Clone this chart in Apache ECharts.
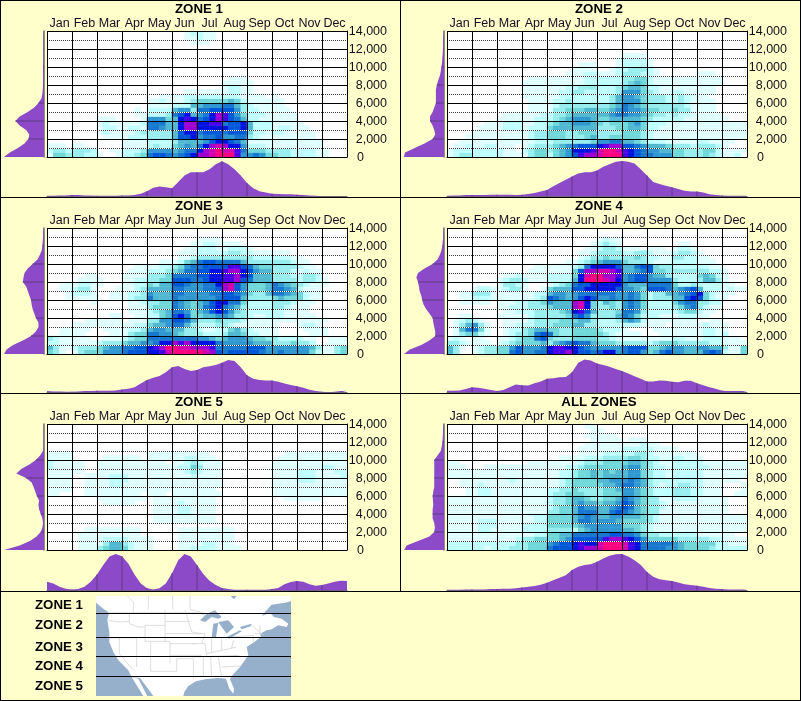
<!DOCTYPE html>
<html><head><meta charset="utf-8">
<style>html,body{margin:0;padding:0;background:#ffffcc}#c{width:801px;height:701px}</style>
<script src="https://cdn.jsdelivr.net/npm/echarts@6/dist/echarts.min.js"></script>
</head><body><div id="c"></div>
<script>
const months = ['Jan','Feb','Mar','Apr','May','Jun','Jul','Aug','Sep','Oct','Nov','Dec'];
const zoneNames = ['ZONE 1','ZONE 2','ZONE 3','ZONE 4','ZONE 5','ALL ZONES'];
const mapLabels = ['ZONE 1','ZONE 2','ZONE 3','ZONE 4','ZONE 5'];
const E = '0000 0000 0000 0000 0000 0000 0000 0000 0000 0000 0000 0000';
// heat levels per 500 ft band (top row = 14,000 ft), four columns per month
const zone1Rows = [
'0000 0000 0000 0000 0000 0012 2110 0000 0000 0000 0000 0000',
'0000 0000 0000 0000 0000 0011 2110 0000 0000 0000 0000 0000',
'0000 0000 0000 0000 0000 0001 1100 0000 0000 0000 0000 0000',
E,E,E,E,E,E,E,
'0000 0000 0000 0000 0000 0000 0000 0111 0000 0000 0000 0000',
'0000 0000 0000 0000 0000 0000 0000 1111 1000 0000 0000 0000',
'0000 0000 0000 0000 0000 0000 0000 1221 1000 0000 0000 0000',
'0000 0000 0000 0000 0000 0011 1111 1221 1000 0000 0000 0000',
'0000 0000 0000 0000 0011 1122 2222 2221 1110 1000 0000 0000',
'0000 0000 0000 0000 1121 1123 4444 4542 1111 1100 0000 0000',
'0000 0000 0000 0000 1111 2225 5666 7753 2111 1100 0000 0000',
'0000 0000 0000 0010 2222 5663 7788 8863 2211 1110 0000 0000',
'0000 0000 0000 0011 2223 7895 679b a864 2221 1111 0000 0000',
'0000 0000 1110 0001 6664 59a9 789b a875 2211 1111 0000 0000',
'0000 0000 1211 1112 7775 59bb 99aa 7889 5222 1111 1000 0000',
'0000 0000 1221 1221 7765 59bb 9999 9889 5222 1221 1100 0000',
'0000 0000 1211 1123 3333 5899 7888 7888 4221 2211 1110 0000',
'0000 0000 0111 1222 3333 5889 6778 6677 3211 1111 1110 0000',
'0000 0000 0000 1111 2222 3555 5689 9875 1111 1111 1111 0000',
'1110 1100 0000 1111 2322 4565 79bc b996 2221 1111 1111 0000',
'2332 3332 0011 2223 6666 5677 9bcd cca7 4443 3332 2221 1000',
'1443 3322 1001 2234 7887 6789 bbcd dda6 6764 4332 2221 1000'
];
const zone2Rows = [
E,E,E,E,E,
'0000 0000 0000 0000 0000 0000 0000 1111 0000 0000 0000 0000',
'0000 0000 0000 0000 0000 0000 0001 2222 1000 0000 0000 0000',
'0000 0000 0000 0000 0000 0111 0001 2222 1000 0000 0000 0000',
'0000 0000 0000 0000 0000 1111 0012 2333 2100 0000 0000 0000',
'0000 0000 0000 0000 0001 1122 1112 3332 2100 0000 1110 0000',
'0000 0000 0000 0111 1111 1122 2222 3344 2111 1111 1111 0000',
'0000 0000 0000 1111 1111 1122 2222 3454 2111 1111 1111 0000',
'0000 0000 0000 1111 1112 2333 2223 4554 2211 1111 1110 0000',
'0000 0000 0000 1111 1122 3322 2223 6664 3211 2211 1110 0000',
'0000 0000 0000 1111 1122 2222 2235 6654 3332 2321 1100 0000',
'0000 0000 0000 0111 1223 2222 2235 6664 3332 2321 1110 0000',
'0000 0000 0000 0111 1233 3333 3345 7654 3333 3321 1110 0000',
'0000 0000 0000 0111 1334 4455 4456 7665 4433 4331 1110 0000',
'0000 0000 0111 1112 2334 5555 5567 7665 4332 3221 1111 0000',
'0000 0000 1111 1122 2345 6665 4455 5554 3222 2211 1111 1000',
'0000 0011 1222 1122 3455 6665 4344 4564 2221 1111 1111 1111',
'0000 0111 1222 1222 4555 5555 3334 4554 2211 1111 1111 1111',
'0000 1111 1111 1233 4443 3444 3333 4443 2111 1111 1111 1111',
'0001 1111 1111 1233 4443 3345 3344 4443 2111 1111 1111 1111',
'0011 1111 1111 1122 2333 3334 6677 5543 2221 1111 2211 1100',
'0112 1122 1110 1233 3456 7888 9abb 8876 5554 3332 3332 1000',
'1222 2222 2110 2344 3456 999a cddc a987 6655 4433 3442 1111',
'1233 2222 2111 1344 2456 8abb cddd a987 7666 4433 3432 1120'
];
const zone3Rows = [
E,E,
'0000 0000 0000 0000 0000 0000 1111 0000 0000 0000 0000 0000',
'0000 0000 0000 0000 0000 0001 1221 1110 0000 0000 0000 0000',
'0000 0000 0000 0000 0000 0011 2221 1222 1000 0000 0000 0000',
'0000 0000 0000 0000 0000 0111 2222 2332 2111 1110 0000 0000',
'0000 0000 0000 0000 0000 0112 3333 3333 3222 2221 1000 0000',
'0000 0000 0000 0000 0011 1245 7887 7775 3333 3332 1100 0000',
'0000 0000 0000 0011 1122 3467 7888 8aa8 7544 3333 2110 0000',
'0000 0000 0000 0111 2223 4577 8899 abb9 8655 3332 1211 0000',
'0000 0011 0000 1111 3334 7777 8899 aab9 8555 3332 2332 0000',
'0000 0111 1000 1122 3344 8887 7899 aab8 7555 3333 2332 1000',
'0011 1221 1000 1122 4355 8876 6779 bc86 4445 7654 3211 1000',
'0011 2331 0001 1123 5555 7766 6778 bc86 4445 7765 2111 0000',
'0001 2221 0011 1223 6555 7766 6677 8876 4335 7765 4211 0000',
'0001 1111 0011 1233 7555 7666 6667 8885 3333 4544 4211 0000',
'0000 0001 0000 0112 3344 7654 5689 9774 2222 3332 1110 0000',
'0000 0000 0000 0111 3444 7654 5789 7653 2222 3321 1100 0000',
'0000 0000 0000 0111 2345 7764 5689 8643 2222 2211 1100 0000',
'0000 0000 0011 0011 2245 8974 4556 6533 2112 2211 1110 0000',
'0000 0011 1111 0111 3366 8875 3334 3332 1111 1111 1111 1000',
'0000 1111 1111 1122 4556 7753 2223 3211 1111 1000 1221 0000',
'0011 1110 0111 1223 5665 5533 2112 2453 2111 1000 0111 1000',
'0011 1100 0011 1344 7766 5433 3222 3554 2211 1000 0011 1000',
'3211 1110 0111 2344 7777 7777 6654 5666 5443 3222 2110 0111',
'2211 1111 2333 4556 6799 bab9 9997 6666 6555 3334 3320 0111',
'5311 2333 4566 7788 9abd dccb bba7 7777 8886 6666 6653 1134',
'4310 1344 4666 7888 99ac dddd dcb8 7888 8876 6766 6642 1134'
];
const zone4Rows = [
E,E,
'0000 0000 0000 0000 0000 0000 1211 0000 0000 0000 0000 0000',
'0000 0000 0000 0000 0000 0001 2321 0000 0000 0110 0000 0000',
'0000 0000 0000 0000 0000 0011 2332 1110 1110 1221 0000 0000',
'0000 0000 0000 0000 0000 0112 3333 2233 2111 2332 1000 0000',
'0000 0000 0000 0000 0000 0123 3433 3343 2211 3322 1100 0000',
'0000 0000 0000 0000 0001 1234 5666 4333 2111 2222 1110 0000',
'0000 0000 0000 0011 1111 2379 9998 5578 8433 2222 2211 0000',
'0000 0000 0000 0111 1111 48bb ccba 5567 8443 3333 3322 1000',
'0000 0000 0112 1111 2222 49cd dbba 6788 6553 2222 4542 1000',
'0000 0000 1233 2111 2222 59dd dcb9 6788 6666 3222 3553 1000',
'0000 0000 1332 1000 1234 7889 9999 6555 7777 4223 2222 1100',
'0000 1221 1233 1001 4555 8899 9998 6654 8887 5678 5222 1211',
'0011 3331 1111 1122 5665 6777 7776 6764 2335 5678 9421 1100',
'0011 2221 1111 1123 8765 6898 6676 6764 2333 5589 8421 1000',
'0011 1110 1112 2334 6555 bc94 3543 6764 2222 4677 3322 0000',
'0000 0000 1122 2333 4555 bc94 3343 6764 2222 3467 3211 0000',
'0000 0000 0112 2233 3345 9a85 3334 7763 2222 2344 2110 0000',
'0011 0000 1111 1233 3334 7863 3335 7642 2211 1222 1100 0000',
'0123 2100 0111 1233 3344 4553 2223 5652 1111 1111 0011 0000',
'0135 6310 0112 2233 3444 5533 2222 2221 1110 1111 1211 1000',
'0157 7410 0122 3455 4433 4444 3222 1000 0111 1111 1221 1000',
'0134 4210 0123 3478 7433 4444 4321 1110 0011 1111 1221 2000',
'1210 1100 1123 4478 4333 4444 3321 1111 1111 2211 1222 1110',
'3321 1110 1234 4445 3567 8775 4443 3333 2344 4333 3322 1111',
'5310 1233 4468 6667 9aa9 9876 6666 7888 4456 6655 6655 3114',
'5300 1233 4478 6677 9aab 9887 8996 7886 4578 6655 5787 2114'
];
const zone5Rows = [
E,E,E,E,E,E,
'1111 0000 0000 0000 1111 1111 1100 0000 0000 0011 1111 1111',
'1111 0000 0111 1110 1111 1122 1110 0000 0000 0111 1111 1111',
'2111 1100 1111 1111 1110 1123 2111 0000 0000 1111 1111 1111',
'2111 1100 1111 1111 1111 1224 3111 0000 0000 1111 1111 2211',
'1111 1100 1111 1111 1111 1123 2111 0000 0000 1111 2221 1122',
'1111 0011 1122 2111 1111 1112 1111 0000 0000 1111 2221 1112',
'1111 0011 1122 2111 1111 1111 1111 0000 0000 1111 2221 1111',
'1111 0011 1122 1111 1111 1111 1111 0000 0000 1111 1111 1111',
'1111 0011 1111 1111 1111 1111 1110 0000 0000 1111 1111 1111',
'1100 0011 1111 1110 1110 1111 1111 0000 0000 1111 1111 1111',
'0000 0000 1111 1111 0111 1111 1110 0000 0000 0011 1111 0000',
'0000 0000 0111 1100 0111 1211 1110 0000 0000 0000 0000 0000',
'0000 0000 0000 0000 0111 1221 1110 0000 0000 0000 0000 0000',
'0000 0000 0000 0000 0111 1221 1110 0000 0000 0000 0000 0000',
'0000 0000 0000 0000 0111 1111 1110 0000 0000 0000 0000 0000',
'0000 0000 0000 0000 0111 1111 1110 0000 0000 0000 0000 0000',
E,
'0000 0011 1111 1110 0000 0111 1111 1100 0000 0000 0000 0000',
'0000 0111 1111 1110 0000 0111 1111 1100 0000 0000 0000 0000',
'0000 0111 1222 2111 1000 0111 1111 1100 0000 0000 0000 0000',
'0000 0111 1355 3211 1000 0111 1221 1100 0000 0000 0000 0000',
'0000 0111 3455 4211 1000 0112 2221 1110 0000 0000 0000 0000'
];
const allZoneRows = [
'0000 0000 0000 0000 0000 0011 0000 0000 0000 0000 0000 0000',
'0000 0000 0000 0000 0000 0001 1000 0000 0000 0000 0000 0000',
'0000 0000 0000 0000 0000 0011 1110 0000 0000 0000 0000 0000',
'0000 0000 0000 0000 0000 0001 1111 0111 0000 0000 0000 0000',
'0000 0000 0000 0000 0000 0011 1111 1112 1100 0000 0000 0000',
'0000 0000 0000 0000 0000 0111 1111 2222 2111 1000 0000 0000',
'0000 0000 0000 0000 0000 0111 1222 2233 2111 1111 0000 0000',
'0000 0000 0000 0000 0011 1122 2333 3443 2211 2211 1000 0000',
'1100 0000 0000 0111 1111 1233 3444 4554 3211 2222 2111 1111',
'1110 0011 1111 1111 1112 2344 4444 5664 3221 2222 2211 1111',
'1111 1111 1111 1111 1122 3445 4545 5664 3221 2222 2111 1111',
'1111 1111 1111 1111 1122 3445 4555 5664 3221 2222 2111 1111',
'0011 1111 1121 1111 1123 4444 5566 6765 3222 2222 2111 1110',
'0011 1211 1111 1111 1123 4444 4556 7765 3212 2332 2111 0001',
'0001 1221 1111 1111 2233 4333 3445 6654 3222 3332 2111 0001',
'0001 1221 1111 1111 2334 4433 3444 6654 3222 3332 2111 0011',
'1111 1111 1111 1111 2334 5543 3445 7654 3311 2222 1111 1000',
'1111 1111 1111 1111 2334 5655 4556 8754 3321 1111 1111 1000',
'1111 1111 1111 1111 2344 5766 5567 8754 3321 1111 1111 1000',
'1111 1111 1111 1111 3344 5777 5578 7654 3311 1111 1111 1000',
'1111 1111 1111 1122 4444 5676 5566 5554 3211 1111 1111 1111',
'1111 1222 1111 1122 4444 5776 6665 4444 3211 1111 1111 1111',
'1111 1222 1111 2222 4444 4566 6666 4443 2111 1111 1111 1111',
'1111 1221 1111 2222 3333 2456 6666 5543 2111 1111 1111 1111',
'1111 1111 1111 1122 4455 7777 7788 7764 3322 2222 1111 1100',
'1111 1111 1112 3344 4456 8888 8abb a986 4444 4333 3322 1111',
'2222 2222 2223 3444 6788 9a99 cddd ca97 7777 6544 4442 2111',
'2222 2212 2233 3444 7888 9abb cddd ca97 7776 6544 4432 2222'
];
// side profiles: frequency at each 500 ft from 0 to 14,000
const zone1Side = [123,105,80,60,48,45,55,75,88,75,50,30,17,8,5,4,3,3,3,3,3,2,2,2,2,2,2,2,2];
const zone2Side = [123,120,90,60,35,27,30,35,43,43,35,30,25,25,25,25,22,18,13,10,8,6,5,4,3,3,3,2,2];
const zone3Side = [123,115,95,65,40,25,17,17,25,30,35,38,40,45,50,55,65,63,60,50,35,20,13,7,5,4,3,3,2];
const zone4Side = [123,105,70,45,27,27,30,33,35,45,55,63,67,70,75,77,80,85,80,60,35,20,13,8,5,4,2,2,1];
const zone5Side = [123,75,43,23,10,5,3,5,10,15,17,15,22,27,32,38,55,85,70,45,25,12,3,1,1,1,1,1,1];
const allZoneSide = [123,115,80,45,30,28,30,35,35,35,33,34,35,33,30,30,30,30,30,30,30,20,10,7,5,4,3,3,3];
// bottom profiles: frequency at each quarter month
const zone1Bottom = [2,2,3,3,4,4,3,3,2,2,2,2,3,3,4,8,15,25,28,26,23,41,59,68,68,68,77,91,99,91,77,59,38,23,15,11,8,7,6,6,5,4,3,2,1,1,1,1,1];
const zone2Bottom = [2,3,3,4,4,4,4,5,5,5,5,4,5,7,10,14,18,29,38,47,56,65,68,68,73,84,91,98,100,98,93,77,59,41,35,30,26,21,16,14,14,11,6,4,3,2,2,2,2];
const zone3Bottom = [4,3,3,2,2,3,4,4,5,5,5,6,9,11,15,26,36,43,48,59,73,77,68,62,65,73,76,80,86,94,91,73,50,40,36,35,35,31,26,22,18,14,8,4,2,1,2,4,5];
const zone4Bottom = [5,5,6,10,15,14,11,7,4,7,15,23,21,20,27,32,40,41,44,45,59,86,96,93,84,80,75,68,62,55,47,40,32,32,35,34,31,30,34,34,27,21,15,11,5,4,4,4,4];
const zone5Bottom = [24,19,10,5,3,4,10,24,44,70,93,100,94,74,44,19,6,3,6,19,47,83,100,93,70,45,27,15,7,4,2,2,2,2,2,2,4,7,17,23,26,24,17,13,15,19,24,27,26];
const allZoneBottom = [2,2,2,3,3,3,3,4,4,5,5,6,8,10,12,16,21,28,35,42,56,65,70,72,79,88,95,99,100,93,83,70,51,38,31,28,26,22,17,15,13,10,7,5,4,3,3,3,3];
const zoneRows = [zone1Rows,zone2Rows,zone3Rows,zone4Rows,zone5Rows,allZoneRows];
const zoneSide = [zone1Side,zone2Side,zone3Side,zone4Side,zone5Side,allZoneSide];
const zoneBottom = [zone1Bottom,zone2Bottom,zone3Bottom,zone4Bottom,zone5Bottom,allZoneBottom];
const levelColors = ['#e0ffff','#bfffff','#98eeee','#70d8d8','#50b8d0','#3098d0','#1878d0','#0058d8','#0010e0','#4800e8','#a000d0','#d000b0','#ff0080'];

const PURPLE = '#8c4ac8', DIVIDER = '#5c3a80', BG = '#ffffcc';
const layout = [[47,31,197],[447,31,197],[47,228,393],[447,228,393],[47,424,591],[447,424,591]];
const altLabels = []; for(let i=0;i<=28;i++) altLabels.push(i*500);
const weekLabels = []; for(let i=0;i<=48;i++) weekLabels.push(i);

const grid=[],xAxis=[],yAxis=[],series=[],title=[],heatIdx=[];
zoneNames.forEach((name,p)=>{
  const [L,T,B]=layout[p];
  const g=grid.length;
  grid.push({left:L,top:T,width:300,height:126,show:true,backgroundColor:'#fff',borderWidth:0,z:0});
  grid.push({left:L-43,top:T,width:40,height:126});
  grid.push({left:L,top:T+130,width:300,height:B-T-130.5});
  const xh=xAxis.length, yh=yAxis.length;
  xAxis.push({gridIndex:g,type:'category',data:weekLabels.slice(0,48),show:false});
  xAxis.push({gridIndex:g,type:'category',data:months,position:'top',z:6,
    axisLine:{show:true,lineStyle:{color:'#000',width:1}},axisTick:{show:false},
    axisLabel:{show:true,interval:0,margin:1,fontFamily:'Liberation Sans',fontSize:12.5,color:'#1a0a22'},
    splitLine:{show:true,interval:0,lineStyle:{color:'#000',width:1}}});
  yAxis.push({gridIndex:g,type:'category',data:altLabels.slice(0,28),show:false});
  // white ground under the dotted lines
  yAxis.push({gridIndex:g,type:'value',min:0,max:14000,interval:2000,position:'right',z:5,
    axisLine:{show:false},axisTick:{show:false},axisLabel:{show:false},splitLine:{show:false},
    minorTick:{show:false,splitNumber:2},minorSplitLine:{show:true,lineStyle:{color:'#fff',width:1}}});
  yAxis.push({gridIndex:g,type:'value',min:0,max:14000,interval:2000,position:'right',z:6,
    axisLine:{show:true,lineStyle:{color:'#000',width:1}},axisTick:{show:false},
    axisLabel:{show:true,align:'right',margin:40,padding:[2,0,0,0],fontFamily:'Liberation Sans',fontSize:12.5,color:'#10101a',
      formatter:v=>v===0?'{z|0}':v.toLocaleString('en-US'),
      rich:{z:{width:30,align:'left',fontFamily:'Liberation Sans',fontSize:12.5,color:'#10101a'}}},
    splitLine:{show:true,lineStyle:{color:'#000',width:1}},
    minorTick:{show:false,splitNumber:2},
    minorSplitLine:{show:true,lineStyle:{color:'#444',width:1,type:[1,1]}}});
  const cells=[];
  zoneRows[p].slice().reverse().forEach((row,r)=>{
    row.replace(/ /g,'').split('').forEach((ch,c)=>{
      const v=parseInt(ch,16); if(v>0) cells.push([c,r,v]);
    });
  });
  heatIdx.push(series.length);
  series.push({type:'heatmap',xAxisIndex:xh,yAxisIndex:yh,data:cells,silent:true,z:2,animation:false,progressive:0});
  const xs=xAxis.length, ys=yAxis.length;
  xAxis.push({gridIndex:g+1,type:'value',inverse:true,min:0,max:123,show:false,splitLine:{show:false}});
  yAxis.push({gridIndex:g+1,type:'category',data:altLabels,boundaryGap:false,position:'right',
    axisLine:{show:true,onZero:false,lineStyle:{color:'#6e6a70',width:1.5}},axisTick:{show:false},axisLabel:{show:false},splitLine:{show:false}});
  series.push({type:'line',xAxisIndex:xs,yAxisIndex:ys,data:zoneSide[p],showSymbol:false,smooth:false,
    lineStyle:{width:0},areaStyle:{color:PURPLE,opacity:1},silent:true,animation:false,z:2});
  series.push({type:'bar',xAxisIndex:xs,yAxisIndex:ys,barWidth:1,silent:true,animation:false,z:3,
    itemStyle:{color:DIVIDER},data:zoneSide[p].map((v,i)=>(i%4===0&&i>0&&i<28)?v:null)});
  const xb=xAxis.length, yb=yAxis.length;
  xAxis.push({gridIndex:g+2,type:'category',data:weekLabels,boundaryGap:false,
    axisLine:{show:true,lineStyle:{color:'#6e6a70',width:1}},axisTick:{show:false},axisLabel:{show:false},splitLine:{show:false}});
  yAxis.push({gridIndex:g+2,type:'value',min:0,max:100,show:false,splitLine:{show:false}});
  series.push({type:'line',xAxisIndex:xb,yAxisIndex:yb,data:zoneBottom[p],showSymbol:false,smooth:false,
    lineStyle:{width:0},areaStyle:{color:PURPLE,opacity:1},silent:true,animation:false,z:2});
  series.push({type:'bar',xAxisIndex:xb,yAxisIndex:yb,barWidth:1,silent:true,animation:false,z:3,
    itemStyle:{color:DIVIDER},data:zoneBottom[p].map((v,i)=>(i%4===0&&i>0&&i<48)?v:null)});
  title.push({text:name,left:L+152,top:T-28,padding:0,textAlign:'center',
    textStyle:{fontFamily:'Liberation Sans',fontWeight:'bold',fontSize:13.3,color:'#000'}});
});

// inset map outline, in 3x inset pixels
const mapBox=[96,596,195,100];
const WATER='#96b0cc';
const mapScale=(pts)=>pts.map(([x,y])=>[x/3+90,y/3+592]);
const landOutline=[[18,12],[603,12],[603,28],[585,32],[545,38],[525,60],[515,72],[540,62],[552,75],[575,80],[595,95],[590,105],[565,100],[545,112],[530,115],[510,125],[513,135],[490,152],[470,165],[475,190],[450,225],[425,252],[420,262],[432,290],[430,305],[418,290],[408,260],[385,258],[345,262],[318,268],[295,282],[283,300],[280,312],[190,312],[150,258],[125,255],[115,235],[85,205],[70,180],[58,150],[58,120],[52,85],[57,62],[40,50],[18,32]];
const bajaOutline=[[125,255],[145,260],[172,312],[160,312],[140,280]];
const waterShapes=[
 [[422,12],[440,12],[432,22]],
 [[330,85],[350,65],[375,55],[395,75],[385,80],[365,75],[345,90]],
 [[370,95],[385,92],[378,135],[365,135]],
 [[385,90],[415,85],[432,105],[410,125],[395,105]],
 [[410,135],[450,115],[455,118],[418,140]],
 [[450,105],[485,95],[482,103],[455,112]]
];
const borderLines=[
 [[57,62],[330,62],[345,70]],[[112,12],[130,30],[130,62]],[[175,12],[175,52]],[[248,12],[248,52]],[[300,12],[300,52],[340,62]],
 [[118,62],[118,95],[145,105],[165,105]],[[55,85],[85,90],[118,88]],[[58,138],[140,138]],[[88,138],[88,185],[130,235]],
 [[140,138],[140,225]],[[182,148],[182,238]],[[240,150],[240,215]],[[165,100],[225,100]],[[165,100],[165,148],[240,148]],
 [[225,55],[225,150]],[[225,88],[300,88]],[[225,125],[300,125]],[[240,155],[320,155]],[[240,190],[335,190]],
 [[182,238],[260,238],[260,200],[310,200],[310,260]],[[285,55],[305,120],[335,125]],[[300,125],[345,125],[335,155]],[[305,155],[345,155],[350,190]],
 [[365,135],[365,180]],[[395,140],[395,175]],[[310,195],[445,190]],[[430,190],[470,195]],[[340,195],[340,255]],[[362,195],[365,255]],[[385,195],[395,255]],
 [[395,225],[450,222]],[[350,185],[440,165]],[[430,145],[425,170]],[[425,135],[490,130]],[[485,100],[520,130]],[[510,100],[510,125]],[[495,125],[515,125]],[[490,130],[490,152]]
];
const zoneLinesY=[613.5,637.5,656.5,676.5];
const mapLabelY=[605,625,647,666,686];
const graphic=[];
const rect=(x,y,w,h,fill,z=50)=>graphic.push({type:'rect',silent:true,z,shape:{x,y,width:w,height:h},style:{fill}});
rect(mapBox[0],mapBox[1],mapBox[2],mapBox[3],WATER,40);
graphic.push({type:'polygon',silent:true,z:41,shape:{points:mapScale(landOutline)},style:{fill:'#fff'}});
graphic.push({type:'polygon',silent:true,z:41,shape:{points:mapScale(bajaOutline)},style:{fill:'#fff'}});
borderLines.forEach(s=>graphic.push({type:'polyline',silent:true,z:42,shape:{points:mapScale(s)},style:{stroke:'#d6d6d6',lineWidth:0.8,fill:null}}));
waterShapes.forEach(s=>graphic.push({type:'polygon',silent:true,z:43,shape:{points:mapScale(s)},style:{fill:WATER}}));
zoneLinesY.forEach(y=>rect(96,y-0.5,195,1,'#000',44));
mapLabels.forEach((t,i)=>graphic.push({type:'text',silent:true,z:44,x:83,y:mapLabelY[i],
  style:{text:t,fill:'#000',align:'right',verticalAlign:'middle',font:'bold 13.3px "Liberation Sans"'}}));
// panel rules
rect(0,0,801,1,'#000');rect(0,700,801,1,'#000');rect(0,0,1,701,'#000');rect(800,0,1,701,'#000');
rect(400,0,1,591,'#000');rect(0,197,801,1,'#000');rect(0,393,801,1,'#000');rect(0,591,801,1,'#000');

const chart=echarts.init(document.getElementById('c'),null,{renderer:'canvas'});
chart.setOption({
  animation:false,backgroundColor:BG,title,grid,xAxis,yAxis,series,graphic,
  visualMap:{type:'piecewise',show:false,seriesIndex:heatIdx,dimension:2,
    pieces:levelColors.map((c,i)=>({value:i+1,color:c}))}
});
</script></body></html>
